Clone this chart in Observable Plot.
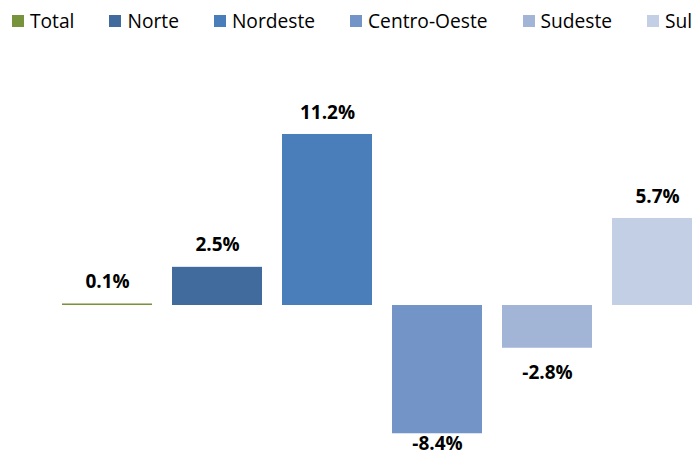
<!DOCTYPE html>
<html><head><meta charset="utf-8">
<script src="https://cdn.jsdelivr.net/npm/d3@7"></script>
<script src="https://cdn.jsdelivr.net/npm/@observablehq/plot@0.6"></script>
<style>
body{margin:0;background:#fff;}
#wrap{position:relative;width:692px;height:457px;overflow:hidden;font-family:"Open Sans",sans-serif;}
#legend{position:absolute;left:12px;top:7px;display:flex;align-items:center;white-space:nowrap;}
.item{display:flex;align-items:center;font-size:19.2px;color:#000;margin-right:35px;}
.sw{width:12px;height:12px;margin-right:6px;}
</style></head><body>
<div id="wrap"><div id="chart"></div><div id="legend"></div></div>
<script>
const regions = ["Total","Norte","Nordeste","Centro-Oeste","Sudeste","Sul"];
const values = [0.1, 2.5, 11.2, -8.4, -2.8, 5.7];
const labels = ["0.1%","2.5%","11.2%","-8.4%","-2.8%","5.7%"];
const colors = ["#77933C","#416A9D","#4A7EBB","#7394C6","#A2B5D7","#C3CFE4"];

const data = regions.map((r,i)=>({region:r, value:values[i], label:labels[i]}));
const H = 457, W = 692, zeroY = 305, ppu = 15.27;
const bottomLimit = -(H - 14 - zeroY)/ppu;

const chart = Plot.plot({
  width: W, height: H, margin: 0,
  style: {fontFamily: "Open Sans, sans-serif", background: "#fff"},
  x: {domain: regions, range: [50.75, 713.75], paddingInner: 0.1855, paddingOuter: 0.0928, axis: null},
  y: {domain: [-10, 12], range: [zeroY + 10*ppu, zeroY - 12*ppu], axis: null},
  color: {domain: regions, range: colors},
  marks: [
    Plot.barY(data, {x: "region", y: "value", fill: "region"}),
    Plot.text(data.filter(d => d.value >= 0), {x: "region", y: "value", text: "label", dy: -22,
      fontSize: 19, fontWeight: "bold", fill: "#000"}),
    Plot.text(data.filter(d => d.value < 0), {x: "region", y: d => Math.max(d.value - 25/ppu, bottomLimit), text: "label",
      fontSize: 19, fontWeight: "bold", fill: "#000"})
  ]
});
document.getElementById("chart").appendChild(chart);

const legend = document.getElementById("legend");
regions.forEach((r,i) => {
  const item = document.createElement("div");
  item.className = "item";
  const sw = document.createElement("span");
  sw.className = "sw";
  sw.style.background = colors[i];
  const t = document.createElement("span");
  t.textContent = r;
  item.appendChild(sw); item.appendChild(t);
  legend.appendChild(item);
});
</script>
</body></html>
